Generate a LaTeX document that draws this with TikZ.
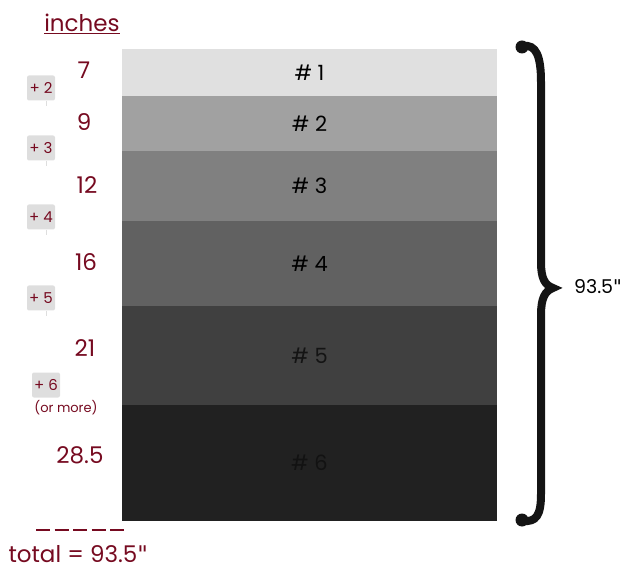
\documentclass[tikz,border=0pt]{standalone}
\usepackage{fontspec}
\setmainfont{Poppins}[Ligatures=ResetAll]
\newfontfamily\quotefont{DejaVu Sans}[Ligatures=ResetAll]
\newcommand{\inchmark}{{\quotefont"}}
\usetikzlibrary{positioning}
\definecolor{inkred}{RGB}{118,10,32}
\tikzset{x=1pt, y=-1pt,
band/.style={ % one shelf of the stack
inner sep=0pt,
outer sep=0pt,
minimum width=375pt,
font=\fontsize{21}{24}\selectfont},
size/.style={ % inch values on the left
text=inkred,
font=\fontsize{23}{26}\selectfont},
badge/.style={ % small grey step boxes
fill=black!13,
rounded corners=2pt,
text=inkred,
minimum width=28pt,
minimum height=25pt,
inner sep=1pt,
font=\fontsize{15}{17}\selectfont},
tail/.style={black!13, line width=1pt}}

\begin{document}
\begin{tikzpicture}
	\useasboundingbox (0,0) rectangle (640,585);
	% the stack
	\node[band, fill=black!12, minimum height=47pt] (b1) at (309.5,72.5) {\# 1};
	\node[band, fill=black!37, minimum height=55pt, below=0pt of b1] (b2) {\# 2};
	\node[band, fill=black!50, minimum height=70pt, below=0pt of b2] (b3) {\# 3};
	\node[band, fill=black!62, minimum height=85pt, below=0pt of b3] (b4) {\# 4};
	\node[band, fill=black!75, minimum height=99pt, below=0pt of b4, text=black!92] (b5) {\# 5};
	\node[band, fill=black!87, minimum height=116pt, below=0pt of b5, text=black!93] (b6) {\# 6};
	% inch values
	\node[size] (inches) at (82,24) {\underline{inches}};
	\node[size] (s1) at (84,70) {7};
	\node[size] (s2) at (84,122) {9};
	\node[size] (s3) at (87,185) {12};
	\node[size] (s4) at (86,262) {16};
	\node[size] (s5) at (85,348) {21};
	\node[size] (s6) at (80,455) {28.5};
	% steps
	\node[badge] (p2) at (41,88) {+ 2};
	\node[badge] (p3) at (41,148) {+ 3};
	\node[badge] (p4) at (41,217) {+ 4};
	\node[badge] (p5) at (41,298) {+ 5};
	\node[badge] (p6) at (46,385) {+ 6};
	\node[text=inkred, font=\fontsize{13}{15}\selectfont] (more) at (66,408) {(or more)};
	\draw[tail] (p2.south) ++(5,0) -- ++(0,5);
	\draw[tail] (p3.south) ++(5,0) -- ++(0,5);
	\draw[tail] (p4.south) ++(5,0) -- ++(0,5);
	\draw[tail] (p5.south) ++(5,0) -- ++(0,5);
	% total
	\draw[inkred, line width=1.8pt, dash pattern=on 14pt off 4.5pt] (36,530) -- (124,530);
	\node[size, anchor=west] (total) at (5,554) {total = 93.5\inchmark};
	% the brace
	\draw[line width=8pt, line cap=round, black!92]
		(523,46) .. controls (536,44) and (541,56) .. (541,82) -- (541,262)
		.. controls (541,279) and (545,285) .. (553,288)
		.. controls (545,291) and (541,298) .. (541,315) -- (541,494)
		.. controls (541,516) and (536,522) .. (523,521);
	\fill[black!92] (522,47) circle (6.5);
	\fill[black!92] (522,520) circle (6.5);
	\node[font=\fontsize{19}{22}\selectfont] (height) at (598,287) {93.5\inchmark};
\end{tikzpicture}
\end{document}
